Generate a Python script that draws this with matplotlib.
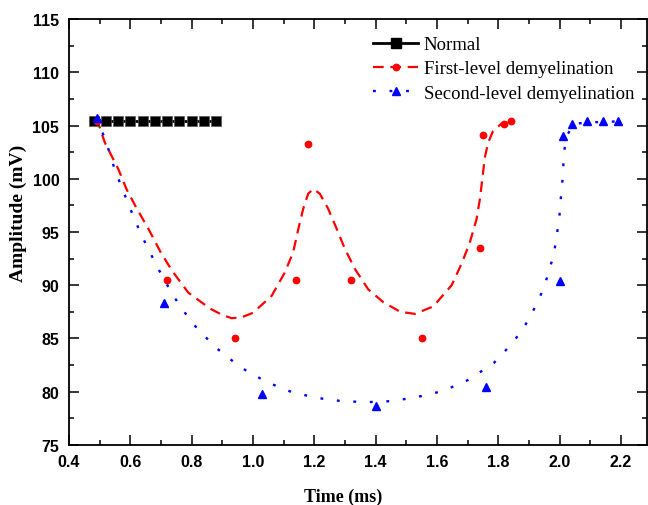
import matplotlib
matplotlib.use("Agg")
import matplotlib.pyplot as plt
from matplotlib.lines import Line2D
from matplotlib.ticker import MultipleLocator

# ---- data ----
normal_x = [0.48, 0.52, 0.56, 0.60, 0.64, 0.68, 0.72, 0.76, 0.80, 0.84, 0.88]
normal_y = [105.4] * 11

first_x = [0.49, 0.72, 0.94, 1.14, 1.18, 1.32, 1.55, 1.74, 1.75, 1.82, 1.84]
first_y = [105.4, 90.5, 85.0, 90.5, 103.3, 90.5, 85.0, 93.5, 104.1, 105.2, 105.4]

second_x = [0.49, 0.71, 1.03, 1.40, 1.76, 2.00, 2.01, 2.04, 2.09, 2.14, 2.19]
second_y = [105.7, 88.3, 79.8, 78.6, 80.4, 90.4, 104.0, 105.2, 105.4, 105.4, 105.4]

# fitted curves
first_fit_x = [0.49, 0.517, 0.561, 0.588, 0.621, 0.659, 0.697, 0.735, 0.789, 0.86, 0.90,
               0.93, 0.96, 1.0, 1.061, 1.104, 1.131, 1.148, 1.164, 1.18, 1.197, 1.218,
               1.245, 1.273, 1.30, 1.333, 1.376, 1.425, 1.48, 1.528, 1.588, 1.648, 1.68,
               1.707, 1.729, 1.74, 1.748, 1.756, 1.767, 1.783, 1.811, 1.838]
first_fit_y = [105.7, 103.4, 100.9, 99.0, 97.2, 95.3, 93.2, 91.4, 89.3, 87.8, 87.2,
               86.9, 86.95, 87.4, 89.0, 91.2, 93.1, 95.3, 97.2, 98.6, 99.05, 98.6,
               97.2, 95.3, 93.4, 91.5, 89.6, 88.4, 87.5, 87.3, 88.0, 90.0, 92.0,
               94.0, 96.2, 98.1, 100.0, 102.0, 103.4, 104.5, 105.2, 105.35]

second_fit_x = [0.49, 0.523, 0.55, 0.583, 0.615, 0.653, 0.694, 0.74, 0.80, 0.876, 0.958,
                1.044, 1.126, 1.208, 1.289, 1.373, 1.455, 1.538, 1.62, 1.703, 1.786,
                1.825, 1.86, 1.889, 1.912, 1.933, 1.95, 1.963, 1.974, 1.984, 1.99,
                1.997, 2.001, 2.004, 2.008, 2.011, 2.013, 2.017, 2.026, 2.044, 2.09,
                2.14, 2.19]
second_fit_y = [105.8, 103.3, 100.8, 98.4, 96.1, 93.7, 91.4, 89.0, 86.5, 84.2, 82.3,
                80.9, 79.95, 79.4, 79.1, 79.0, 79.1, 79.5, 80.05, 81.1, 82.7,
                83.9, 85.1, 86.3, 87.5, 88.7, 89.9, 91.1, 92.2, 93.4, 94.65,
                95.8, 97.0, 98.2, 99.4, 100.6, 101.8, 103.0, 104.15, 105.15, 105.3,
                105.35, 105.4]

xtick_labels = ["0.4", "0.6", "0.8", "1.0", "1.2", "1.4", "1.6", "1.8", "2.0", "2.2"]
labels = ["Normal", "First-level demyelination", "Second-level demyelination"]

fig = plt.figure(figsize=(6.48, 5.06), dpi=100)
ax = fig.add_axes([69/648, 60.3/506, (647-69)/648, (445.7-20.3)/506])

red_dash = (0, (4.8, 3.0))
blue_dot = (0, (1.2, 5.8))

ax.plot(normal_x, normal_y, color="black", lw=2, marker="s", ms=6.5,
        mfc="black", mec="#555555", mew=0.5, zorder=3)
ax.plot(first_fit_x, first_fit_y, color="red", lw=1.6, linestyle=red_dash, zorder=2)
ax.plot(first_x, first_y, ls="none", marker="o", ms=4.6, color="red", zorder=3)
ax.plot(second_fit_x, second_fit_y, color="blue", lw=1.7, linestyle=blue_dot, zorder=2)
ax.plot(second_x, second_y, ls="none", marker="^", ms=5.2, color="blue", zorder=4)

ax.set_xlim(0.4, 2.285)
ax.set_ylim(75, 115)
ax.xaxis.set_minor_locator(MultipleLocator(0.1))
ax.yaxis.set_major_locator(MultipleLocator(5))
ax.yaxis.set_minor_locator(MultipleLocator(2.5))
ax.set_xticks([float(t) for t in xtick_labels])
ax.set_xticklabels(xtick_labels)
ax.tick_params(which="both", direction="in", top=True, right=True, width=1.1)
ax.tick_params(which="major", length=7, pad=7)
ax.tick_params(which="minor", length=3.5)
for lab in ax.get_xticklabels() + ax.get_yticklabels():
    lab.set_fontfamily("Liberation Sans")
    lab.set_fontweight("bold")
    lab.set_fontsize(11.5)
for s in ax.spines.values():
    s.set_linewidth(1.3)

ax.set_xlabel("Time (ms)", fontfamily="Liberation Serif", fontweight="bold", fontsize=13)
ax.set_ylabel("Amplitude (mV)", fontfamily="Liberation Serif", fontweight="bold", fontsize=14)
ax.xaxis.set_label_coords(0.475, -0.1)
ax.yaxis.set_label_coords(-0.072, 0.546)

handles = [
    Line2D([], [], color="black", lw=2, marker="s", ms=6.5, mfc="black"),
    Line2D([], [], color="red", lw=1.6, linestyle=red_dash, marker="o", ms=4.6),
    Line2D([], [], color="blue", lw=1.7, linestyle=blue_dot, marker="^", ms=5.2),
]
leg = ax.legend(handles, labels, loc="upper left", bbox_to_anchor=(373/648, 1-37/506),
                bbox_transform=fig.transFigure, frameon=False, borderpad=0,
                borderaxespad=0, handlelength=2.4, handletextpad=0.3,
                labelspacing=0.38, markerscale=1.0, numpoints=1,
                prop={"family": "Liberation Serif", "size": 13.5})

fig.savefig("out.png", dpi=100)
